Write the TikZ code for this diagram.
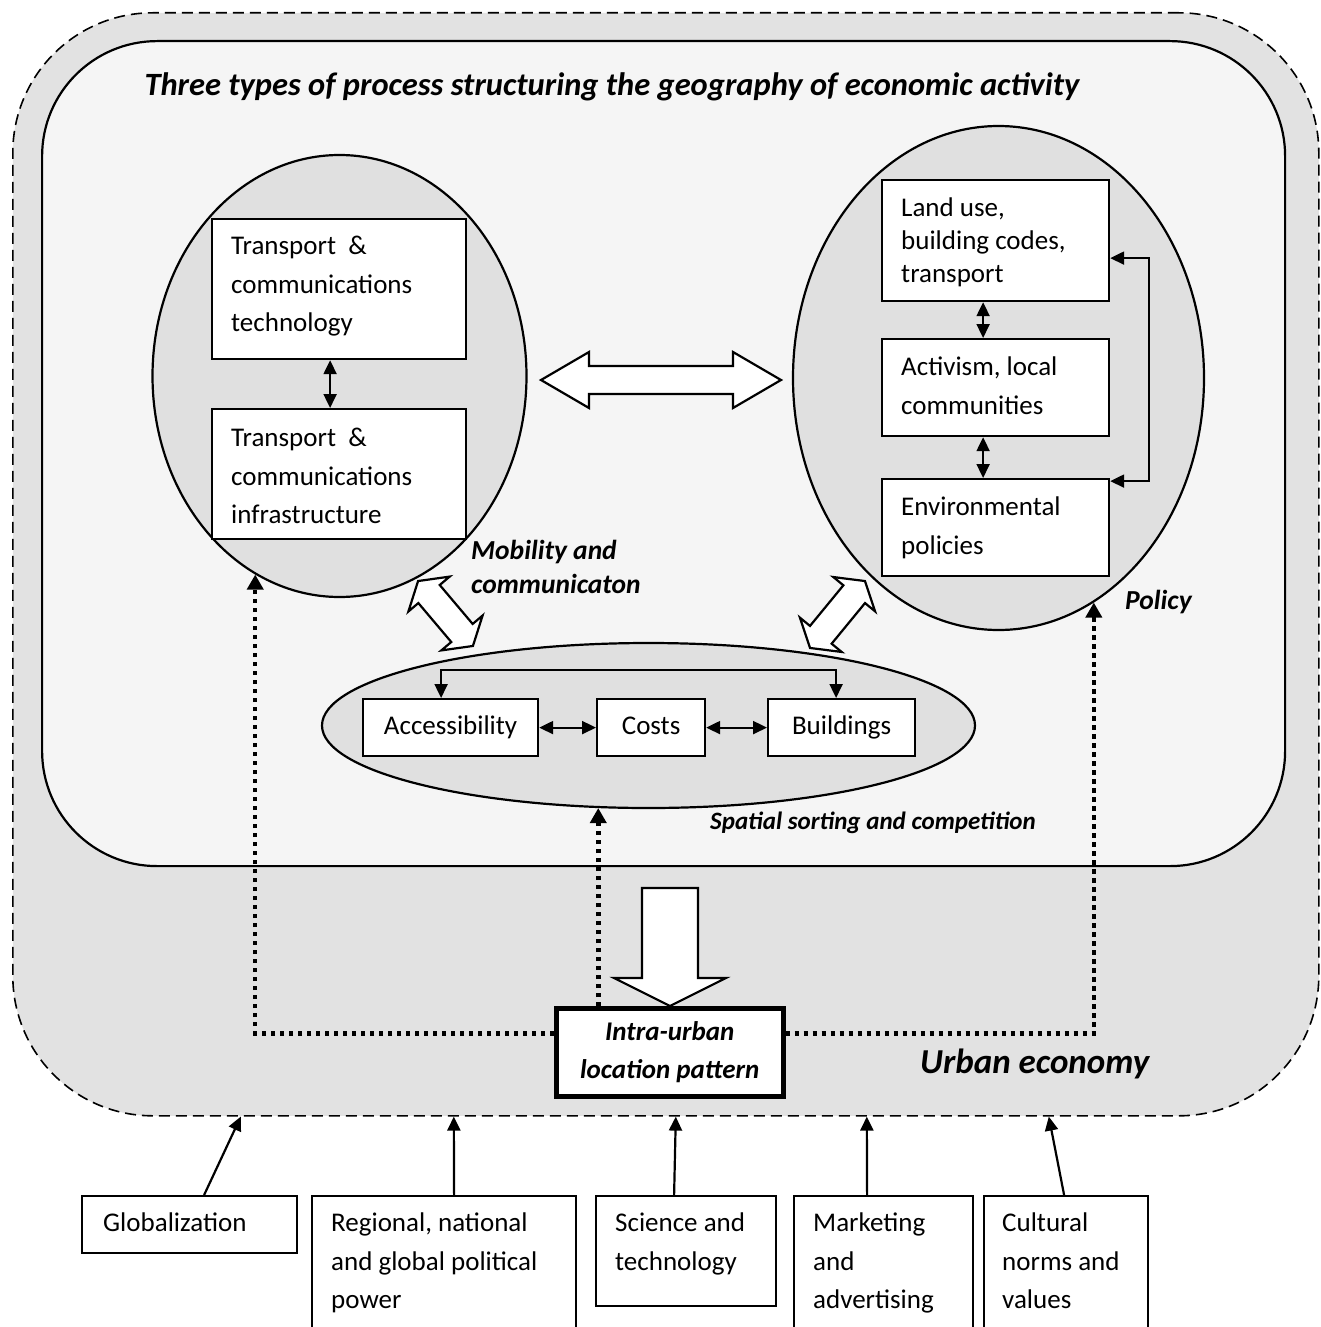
\documentclass[tikz,border=0pt]{standalone}
\usepackage{fontspec}
\setmainfont{Carlito}
\usetikzlibrary{arrows.meta,shapes.geometric}
\definecolor{outerfill}{HTML}{E2E2E2}
\definecolor{innerfill}{HTML}{F5F5F5}
\definecolor{ellfill}{HTML}{E0E0E0}
\begin{document}
\begin{tikzpicture}[x=1pt,y=-1pt,
  >={Triangle[length=14pt,width=13pt]},
  conn/.style={line width=2.2pt},
  box/.style={draw, line width=2.2pt, fill=white, inner sep=0pt, anchor=north west, font=\fontsize{27}{38.5}\selectfont},
  txt/.style={inner sep=0pt, anchor=north west, align=left, font=\fontsize{27}{38.5}\selectfont, execute at begin node=\strut},
  ell/.style={ellipse, draw, fill=ellfill, line width=2.2pt, inner sep=0pt},
  blk/.style={draw, line width=2.2pt, fill=white, line join=miter},
  dotarrow/.style={line width=4.5pt, line cap=butt, dash pattern=on 4.5pt off 4.5pt, -{Triangle[length=15pt,width=16pt]}},
  lab/.style={inner sep=0pt, font=\fontsize{27.5}{34}\selectfont\bfseries\itshape}
]
\useasboundingbox (0,0) rectangle (1321,1327);
\fill[white] (0,0) rectangle (1321,1327);

% outer and inner frames
\node[draw, fill=outerfill, line width=1.6pt, dash pattern=on 11pt off 6pt, rounded corners=140pt,
      minimum width=1306, minimum height=1103, inner sep=0pt, anchor=north west] (outer) at (12,12) {};
\node[draw, fill=innerfill, line width=2.2pt, rounded corners=115pt,
      minimum width=1243, minimum height=825, inner sep=0pt, anchor=north west] (inner) at (41,40) {};

\node[anchor=base, inner sep=0pt, font=\fontsize{32.5}{38}\selectfont\bfseries\itshape] (title) at (612,96)
  {Three types of process structuring the geography of economic activity};

% ellipses
\node[ell, minimum width=374, minimum height=442] (ellL) at (339.5,376) {};
\node[ell, minimum width=411, minimum height=504] (ellR) at (998.5,378) {};
\node[ell, minimum width=653, minimum height=165] (ellB) at (648.5,725.5) {};

% left boxes
\node[box, minimum width=254, minimum height=140] (LB1) at (211,218) {};
\node[box, minimum width=254, minimum height=130] (LB2) at (211,408) {};
\node[txt] (LB1t) at (231,236) {Transport~~\&\\communications\\technology};
\node[txt] (LB2t) at (231,428) {Transport~~\&\\communications\\infrastructure};
\draw[conn,<->] ([xshift=-9pt]LB1.south) -- ([xshift=-9pt]LB2.north);

% right boxes
\node[box, minimum width=227, minimum height=121] (RB1) at (881,179) {};
\node[box, minimum width=227, minimum height=97] (RB2) at (881,338) {};
\node[box, minimum width=227, minimum height=97] (RB3) at (881,478) {};
\node[txt, font=\fontsize{27}{33}\selectfont] (RB1t) at (901,198) {Land use,\\building codes,\\transport};
\node[txt] (RB2t) at (901,357) {Activism, local\\communities};
\node[txt] (RB3t) at (901,497) {Environmental\\policies};
\draw[conn,<->] ([xshift=-12.5pt]RB1.south) -- ([xshift=-12.5pt]RB2.north);
\draw[conn,<->] ([xshift=-12.5pt]RB2.south) -- ([xshift=-12.5pt]RB3.north);
\draw[conn,<->] ([yshift=-17.5pt]RB1.east) -- ++(39,0) |- ([yshift=46.5pt]RB3.east);

% bottom ellipse boxes
\node[box, minimum width=175, minimum height=57, text height=19pt, text depth=6pt] (acc) at (362,698) {Accessibility};
\node[box, minimum width=108, minimum height=57, text height=19pt, text depth=6pt] (costs) at (596,698) {Costs};
\node[box, minimum width=147, minimum height=57, text height=19pt, text depth=6pt] (bld) at (767,698) {Buildings};
\draw[conn,<->] (acc) -- (costs);
\draw[conn,<->] (costs) -- (bld);
\draw[conn,<->] ([xshift=-9.5pt]acc.north) -- ++(0,-28) -| ([xshift=-5.5pt]bld.north);

% block arrows
\draw[blk] (541,380) -- (589,352) -- (589,366) -- (733,366) -- (733,352) -- (781,380)
  -- (733,408) -- (733,394) -- (589,394) -- (589,408) -- cycle;
\begin{scope}[shift={(445.5,613.5)}, rotate=-49.8]
  \draw[blk] (-42.5,0) -- (-25.5,27) -- (-25.5,14) -- (25.5,14) -- (25.5,27) -- (42.5,0)
    -- (25.5,-27) -- (25.5,-14) -- (-25.5,-14) -- (-25.5,-27) -- cycle;
\end{scope}
\begin{scope}[shift={(837.5,614.5)}, rotate=50.6]
  \draw[blk] (-43.3,0) -- (-26.3,27) -- (-26.3,14) -- (26.3,14) -- (26.3,27) -- (43.3,0)
    -- (26.3,-27) -- (26.3,-14) -- (-26.3,-14) -- (-26.3,-27) -- cycle;
\end{scope}
\draw[blk] (642,888) -- (698,888) -- (698,978) -- (726,978) -- (670,1006) -- (614,978) -- (642,978) -- cycle;

% labels
\node[lab, anchor=north west, align=left, execute at begin node=\strut] (mob) at (471,540) {Mobility and\\communicaton};
\node[lab, anchor=base west] (pol) at (1125,609) {Policy};
\node[lab, anchor=base west, font=\fontsize{25}{30}\selectfont\bfseries\itshape] (spat) at (710,829) {Spatial sorting and competition};
\node[lab, anchor=base west, font=\fontsize{35}{40}\selectfont\bfseries\itshape] (urb) at (920,1073) {Urban economy};

% intra-urban
\node[box, line width=4.5pt, minimum width=227, minimum height=88, align=center,
      font=\fontsize{27}{38}\selectfont\bfseries\itshape] (intra) at (554,1006) {Intra-urban\\location pattern};
\draw[dotarrow] ([yshift=19pt]intra.west) -| (ellL.-113.2);
\draw[dotarrow] ([yshift=19pt]intra.east) -| (ellR.-67.9);
\draw[dotarrow] ([xshift=-71.5pt]intra.north) -- ([xshift=-71.5pt]intra.north |- ellB.-122.8);

% external factors
\node[box, minimum width=215, minimum height=57] (glob) at (81,1195) {};
\node[box, minimum width=264, minimum height=160] (reg) at (311,1195) {};
\node[box, minimum width=180, minimum height=110] (sci) at (595,1195) {};
\node[box, minimum width=179, minimum height=160] (mkt) at (793,1195) {};
\node[box, minimum width=164, minimum height=160] (cul) at (983,1195) {};
\node[txt] (globt) at (103,1204) {Globalization};
\node[txt] (regt) at (331,1213) {Regional, national\\and global political\\power};
\node[txt] (scit) at (615,1213) {Science and\\technology};
\node[txt] (mktt) at (813,1213) {Marketing\\and\\advertising};
\node[txt] (cult) at (1002,1213) {Cultural\\norms and\\values};
\draw[conn,->] ([xshift=14.5pt]glob.north) -- ([xshift=-425pt]outer.south);
\draw[conn,->] ([xshift=10pt]reg.north) -- ([xshift=-212pt]outer.south);
\draw[conn,->] ([xshift=-12pt]sci.north) -- ([xshift=10pt]outer.south);
\draw[conn,->] ([xshift=-16.5pt]mkt.north) -- ([xshift=201pt]outer.south);
\draw[conn,->] ([xshift=-2pt]cul.north) -- ([xshift=383pt]outer.south);
\end{tikzpicture}
\end{document}
